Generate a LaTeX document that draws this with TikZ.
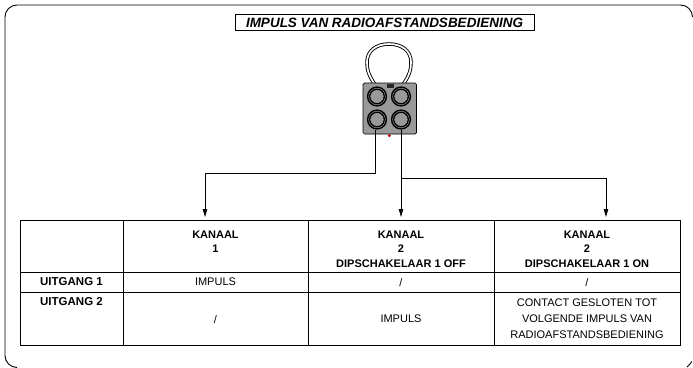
\documentclass[tikz,border=0pt]{standalone}
\usepackage{fontspec}
\setmainfont{Liberation Sans}
\usetikzlibrary{arrows.meta}
\begin{document}
\begin{tikzpicture}[x=1pt,y=-1pt,
  cell/.style={draw, line width=1pt, anchor=north west, inner sep=0pt, outer sep=0pt},
  hdr/.style={font=\fontsize{11}{14.5}\selectfont\bfseries, align=center, inner sep=0pt},
  txt/.style={font=\fontsize{11}{16}\selectfont, align=center, inner sep=0pt},
  wire/.style={line width=0.8pt},
  arr/.style={wire, -{Triangle[length=8pt,width=4.5pt]}},
  ring/.style={draw=black, fill=black!40, line width=1.4pt},
  frame/.style={line width=0.9pt, rounded corners=12pt}]
\useasboundingbox (0,0) rectangle (693,367);
% outer frame (right and bottom edges lie outside the picture)
\draw[frame] (692.5,16) -- (692.5,5) -- (5,5) -- (5,367.5) -- (17,367.5);
\draw[line width=0.9pt] (691.8,361.5) .. controls (690.5,363.5) and (689,365.5) .. (687,367);
% title
\node[draw, line width=0.9pt, minimum width=299pt, minimum height=15.5pt, inner sep=0pt,
      font=\fontsize{13.5}{14}\selectfont\bfseries\itshape] (title) at (384.5,22.5)
      {IMPULS VAN RADIOAFSTANDSBEDIENING};
% remote control
\draw[line width=0.9pt, double=white, double distance=1.7pt]
  (376,86) .. controls (368,75) and (367,69) .. (367,62)
  .. controls (367,51) and (376,44) .. (389,44)
  .. controls (402,44) and (411,51) .. (411,62)
  .. controls (411,69) and (410,75) .. (402,86);
\draw[line width=0.7pt, fill=black!40, rounded corners=1.5pt] (363,83) rectangle (416.5,134) ;
\fill[black!85] (386.5,84.3) rectangle (393.5,87.6);
\foreach \cx/\cy in {377/96.5, 401/96.5, 377/119.5, 401/119.5}{
  \draw[ring] (\cx,\cy) circle (9.4);
  \draw[black, line width=1.3pt] (\cx,\cy) circle (7.3);
}
\fill[red!75!black] (389.3,135.6) circle (1.6);
\coordinate (w1) at (375,129.5);
\coordinate (w2) at (401,129.5);
% table cells
\node[cell, minimum width=103pt, minimum height=52pt] (c00) at (20,220) {};
\node[cell, minimum width=185pt, minimum height=52pt] (c01) at (123,220) {};
\node[cell, minimum width=186pt, minimum height=52pt] (c02) at (308,220) {};
\node[cell, minimum width=186pt, minimum height=52pt] (c03) at (494,220) {};
\node[cell, minimum width=103pt, minimum height=20pt] (c10) at (20,272) {};
\node[cell, minimum width=185pt, minimum height=20pt] (c11) at (123,272) {};
\node[cell, minimum width=186pt, minimum height=20pt] (c12) at (308,272) {};
\node[cell, minimum width=186pt, minimum height=20pt] (c13) at (494,272) {};
\node[cell, minimum width=103pt, minimum height=53pt] (c20) at (20,292) {};
\node[cell, minimum width=185pt, minimum height=53pt] (c21) at (123,292) {};
\node[cell, minimum width=186pt, minimum height=53pt] (c22) at (308,292) {};
\node[cell, minimum width=186pt, minimum height=53pt] (c23) at (494,292) {};
% header texts
\node[hdr, anchor=north] (h1) at (215.5,230.5) {KANAAL\\1};
\node[hdr, anchor=north] (h2) at (401,230.5) {KANAAL\\2\\DIPSCHAKELAAR 1 OFF};
\node[hdr, anchor=north] (h3) at (587,230.5) {KANAAL\\2\\DIPSCHAKELAAR 1 ON};
% row texts
\node[hdr, font=\fontsize{11.5}{14}\selectfont\bfseries] (u1) at (71.5,282) {UITGANG 1};
\node[hdr, font=\fontsize{11.5}{14}\selectfont\bfseries] (u2) at (71.5,302) {UITGANG 2};
\node[txt] (r11) at (215.5,282) {IMPULS};
\node[txt] (r12) at (401,282.5) {/};
\node[txt] (r13) at (587,282.5) {/};
\node[txt] (r21) at (215.5,319.5) {/};
\node[txt] (r22) at (401,319) {IMPULS};
\node[txt] (r23) at (587,319) {CONTACT GESLOTEN TOT\\VOLGENDE IMPULS VAN\\RADIOAFSTANDSBEDIENING};
% connectors
\coordinate (k1) at (205,217);
\coordinate (k2) at (401,217);
\coordinate (k3) at (606,217);
\draw[arr] (w1) -- ++(0,44) -| (k1);
\draw[arr] (w2) -- (k2);
\draw[arr] (w2 |- 0,178) -| (k3);
\end{tikzpicture}
\end{document}
